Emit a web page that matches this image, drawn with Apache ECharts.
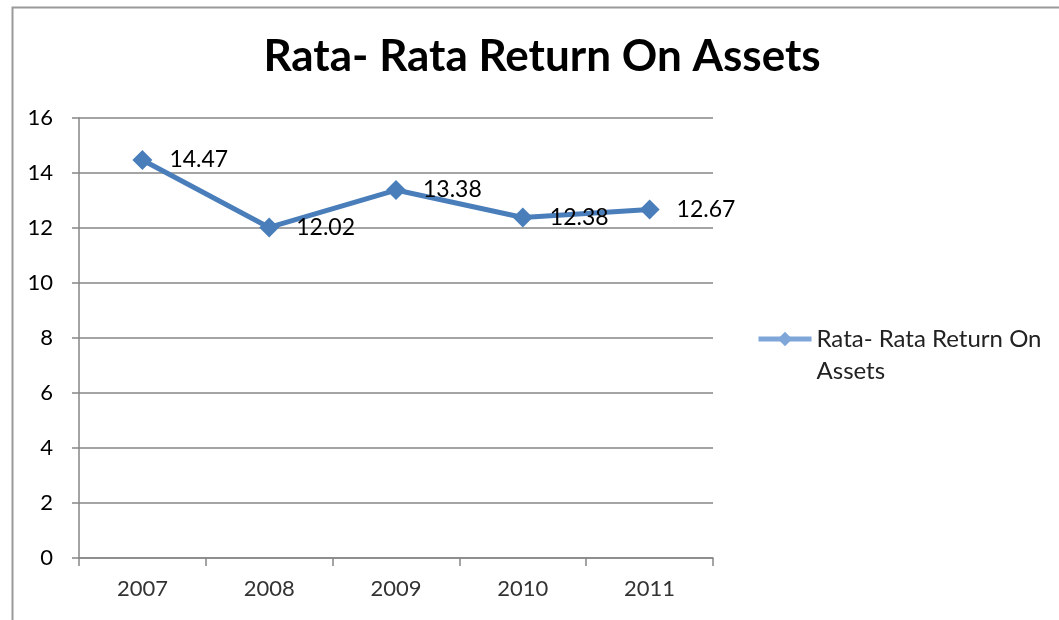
<!DOCTYPE html>
<html><head><meta charset="utf-8">
<script src="https://cdn.jsdelivr.net/npm/echarts@6/dist/echarts.min.js"></script>
<style>html,body{margin:0;padding:0;background:#fff}#c{width:1059px;height:620px}</style>
</head><body><div id="c"></div>
<script>
const titleText = 'Rata- Rata Return On Assets';
const seriesName = 'Rata- Rata Return On Assets';
const legendLines = ['Rata- Rata Return On', 'Assets'];
const categories = ['2007', '2008', '2009', '2010', '2011'];
const values = [14.47, 12.02, 13.38, 12.38, 12.67];
const yTicks = [0, 2, 4, 6, 8, 10, 12, 14, 16];

const font = 'Lato, "Open Sans", "Noto Sans", sans-serif';
const chart = echarts.init(document.getElementById('c'), null, {renderer: 'canvas'});
chart.setOption({
  animation: false,
  backgroundColor: '#fff',
  graphic: [{
    type: 'rect', left: 10, top: 5, z: -1,
    shape: {x: 0, y: 0, width: 1100, height: 700},
    style: {fill: 'none', stroke: '#9a9a9a', lineWidth: 2}
  }],
  title: {
    text: titleText, left: 537, top: 30, textAlign: 'center',
    textStyle: {fontFamily: font, fontWeight: 'bold', fontSize: 44, color: '#000'}
  },
  grid: {left: 79, right: 346, top: 118, bottom: 62, containLabel: false},
  legend: {
    left: 756, top: 291, orient: 'vertical', padding: 0,
    itemWidth: 53, itemHeight: 18, itemGap: 4,
    data: [{name: seriesName, itemStyle: {color: '#7fa6d8'}, lineStyle: {color: '#7fa6d8', width: 5}}],
    formatter: () => ' \n' + legendLines.join('\n'),
    textStyle: {fontFamily: font, fontSize: 24, color: '#222', lineHeight: 32}
  },
  xAxis: {
    type: 'category', data: categories, boundaryGap: true,
    axisLine: {lineStyle: {color: '#868686', width: 1.5}},
    axisTick: {show: true, length: 8, lineStyle: {color: '#868686', width: 1.5}},
    axisLabel: {fontFamily: font, fontSize: 22, color: '#333', margin: 20},
    splitLine: {show: false}
  },
  yAxis: {
    type: 'value', min: yTicks[0], max: yTicks[yTicks.length - 1], interval: 2,
    axisLine: {show: true, lineStyle: {color: '#868686', width: 1.5}},
    axisTick: {show: true, length: 7, lineStyle: {color: '#868686', width: 1.5}},
    axisLabel: {fontFamily: font, fontSize: 22, color: '#000', margin: 26},
    splitLine: {lineStyle: {color: '#868686', width: 1.5}}
  },
  series: [{
    name: seriesName, type: 'line', data: values,
    symbol: 'diamond', symbolSize: 20,
    lineStyle: {color: '#4a7ebb', width: 5},
    itemStyle: {color: '#4a7ebb'},
    label: {show: true, position: 'right', distance: 17,
      fontFamily: font, fontSize: 23, color: '#000'}
  }]
});
</script></body></html>
